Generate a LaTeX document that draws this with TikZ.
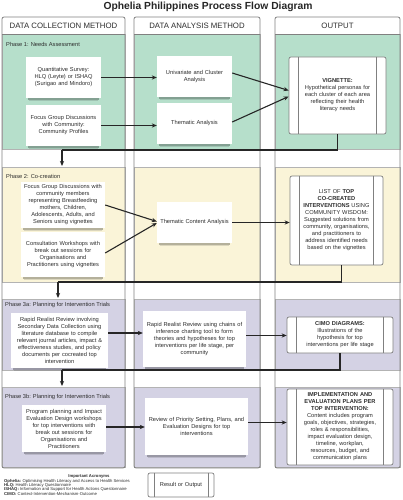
\documentclass[tikz,border=0pt]{standalone}
\usepackage{fontspec}
\setmainfont{Liberation Sans}
\usetikzlibrary{arrows.meta,calc}
\definecolor{pgreen}{RGB}{182,223,203}
\definecolor{pyellow}{RGB}{250,244,216}
\definecolor{ppurple}{RGB}{212,210,228}
\definecolor{lanegray}{RGB}{128,128,128}
\definecolor{txt}{RGB}{45,45,45}
\tikzset{
 lanebox/.style={draw=lanegray, line width=0.8pt, rounded corners=2pt},
 bandbox/.style={draw=lanegray!60, line width=0.4pt},
 procbox/.style={fill=white, text=txt, align=center, font=\fontsize{5.7}{7}\selectfont, inner sep=1pt},
 outbox/.style={draw=lanegray, line width=0.7pt, fill=white, rounded corners=2pt, text=txt, align=center,
   font=\fontsize{5.7}{7}\selectfont, inner sep=1pt},
 arr/.style={-{Stealth[length=5pt,width=4.2pt]}, line width=1.1pt, black!85},
 conn/.style={line width=1.1pt, black!85},
 phlabel/.style={anchor=west, text=txt, font=\fontsize{5.7}{7}\selectfont, inner sep=0pt},
 hdr/.style={text=txt, font=\fontsize{7.8}{9}\selectfont, inner sep=0pt},
 shadowa/.style={fill=black, opacity=0.28},
 shadowb/.style={fill=black, opacity=0.12},
}
\begin{document}
\begin{tikzpicture}[x=1pt,y=-1pt]
\useasboundingbox (0,0) rectangle (402,500);
\fill[white] (0,0) rectangle (402,500);
% title
\node[font=\fontsize{10.3}{12}\selectfont\bfseries, text=black!85, inner sep=0pt] (title) at (208,6.5) {Ophelia Philippines Process Flow Diagram};
% lanes
\foreach \xa/\xb in {2/125,134/260,275/400} {
  \fill[white, rounded corners=2pt] (\xa,17) rectangle (\xb,468);
  \filldraw[bandbox, fill=pgreen] (\xa,34) rectangle (\xb,149);
  \filldraw[bandbox, fill=pyellow] (\xa,167) rectangle (\xb,282);
  \filldraw[bandbox, fill=ppurple] (\xa,299) rectangle (\xb,370);
  \filldraw[bandbox, fill=ppurple] (\xa,387) rectangle (\xb,467.5);
  \draw[lanebox] (\xa,17) rectangle (\xb,468);
  \draw[lanegray, line width=0.8pt] (\xa,34) -- (\xb,34);
}
\node[hdr] (h1) at (63.5,25.5) {DATA COLLECTION METHOD};
\node[hdr] (h2) at (197,25.5) {DATA ANALYSIS METHOD};
\node[hdr] (h3) at (337.5,25.5) {OUTPUT};
% phase labels
\node[phlabel] (ph1) at (6,44) {Phase 1: Needs Assessment};
\node[phlabel] (ph2) at (6,176) {Phase 2: Co-creation};
\node[phlabel] (ph3a) at (5,305.5) {Phase 3a: Planning for Intervention Trials};
\node[phlabel] (ph3b) at (5,397) {Phase 3b: Planning for Intervention Trials};
% phase 1
\node[procbox, text width=73pt, minimum height=41pt] (q1) at (63.5,77.5) {Quantitative Survey:\\HLQ (Leyte) or ISHAQ\\(Surigao and Mindoro)};
\node[procbox, text width=73pt, minimum height=41pt] (f1) at (63.5,125.5) {Focus Group Discussions\\with Community:\\Community Profiles};
\node[procbox, text width=73pt, minimum height=41pt] (u1) at (194.5,76.5) {Univariate and Cluster\\Analysis};
\node[procbox, text width=73pt, minimum height=41pt] (t1) at (194.5,123.5) {Thematic Analysis};
\node[outbox, text width=95pt, minimum height=77pt] (vig) at (337.5,95.5) {\textbf{VIGNETTE:}\\Hypothetical personas for\\each cluster of each area\\reflecting their health\\literacy needs};
% phase 2
\node[procbox, text width=82pt, minimum height=46pt] (f2) at (63,205) {Focus Group Discussions with\\community members\\representing Breastfeeding\\mothers, Children,\\Adolescents, Adults, and\\Seniors using vignettes};
\node[procbox, text width=82pt, minimum height=45pt] (c2) at (63,254.5) {Consultation Workshops with\\break out sessions for\\Organisations and\\Practitioners using vignettes};
\node[procbox, text width=73pt, minimum height=41pt] (t2) at (194.5,222.5) {Thematic Content Analysis};
\node[outbox, text width=91pt, minimum height=89pt] (list) at (336.5,220.5) {LIST OF \textbf{TOP}\\\textbf{CO-CREATED}\\\textbf{INTERVENTIONS} USING\\COMMUNITY WISDOM:\\Suggested solutions from\\community, organisations,\\and practitioners to\\address identified needs\\based on the vignettes};
% phase 3a
\node[procbox, text width=95pt, minimum height=55pt] (r3) at (59.5,340.5) {Rapid Realist Review involving\\Secondary Data Collection using\\literature database to compile\\relevant journal articles, impact \&\\effectiveness studies, and policy\\documents per cocreated top\\intervention};
\node[procbox, text width=101pt, minimum height=56pt] (rr3) at (194.5,339) {Rapid Realist Review using chains of\\inference charting tool to form\\theories and hypotheses for top\\interventions per life stage, per\\community};
\node[outbox, text width=104pt, minimum height=36pt] (cimo) at (340,335) {\textbf{CIMO DIAGRAMS:}\\Illustrations of the\\hypothesis for top\\interventions per life stage};
% phase 3b
\node[procbox, text width=82pt, minimum height=47pt] (p3) at (64,428.5) {Program planning and Impact\\Evaluation Design workshops\\for top interventions with\\break out sessions for\\Organisations and\\Practitioners};
\node[procbox, text width=101pt, minimum height=57pt] (rv3) at (196.5,426.5) {Review of Priority Setting, Plans, and\\Evaluation Designs for top\\interventions};
\node[outbox, text width=104pt, minimum height=76pt] (impl) at (340,427) {\textbf{IMPLEMENTATION AND}\\\textbf{EVALUATION PLANS PER}\\\textbf{TOP INTERVENTION:}\\Content includes program\\goals, objectives, strategies,\\roles \& responsibilities,\\impact evaluation design,\\timeline, workplan,\\resources, budget, and\\communication plans};
% soft shadows under process boxes
\foreach \n in {q1,f1,u1,t1,f2,c2,t2,r3,rr3,p3,rv3} {
  \fill[shadowa] ([xshift=2pt]\n.south west) rectangle ([xshift=-2pt,yshift=-1.5pt]\n.south east);
  \fill[shadowb] ([xshift=3pt,yshift=-1.5pt]\n.south west) rectangle ([xshift=-3pt,yshift=-3pt]\n.south east);
}
% legend
\node[font=\fontsize{4.2}{5}\selectfont\bfseries, text=txt, inner sep=0pt] (acrt) at (89,476) {Important Acronyms};
\node[anchor=north west, align=left, font=\fontsize{4.2}{4.3}\selectfont, text=txt, inner sep=0pt] (acr) at (4,479) {\textbf{Ophelia:} Optimising Health Literacy and Access to Health Services\\\textbf{HLQ:} Health Literacy Questionnaire\\\textbf{ISHAQ:} Information and Support for Health Actions Questionnaire\\\textbf{CIMO:} Context-Intervention-Mechanism-Outcome};
\node[outbox, text width=64pt, minimum height=24pt] (leg) at (181,485) {Result or Output};
% inner lines of output boxes
\foreach \n/\d in {vig/10pt,list/10pt,cimo/10pt,impl/10pt,leg/6.5pt} {
  \draw[lanegray, line width=0.6pt] ([xshift=\d]\n.north west) -- ([xshift=\d]\n.south west);
  \draw[lanegray, line width=0.6pt] ([xshift=-\d]\n.north east) -- ([xshift=-\d]\n.south east);
}
% arrows phase 1
\draw[arr] (q1.east) -- (q1.east -| u1.west);
\draw[arr] (f1.east) -- (f1.east -| t1.west);
\draw[arr] ([yshift=3.5pt]u1.east) -- ([yshift=5pt]vig.west);
\draw[arr] ([yshift=1.5pt]t1.east) -- ([yshift=-1pt]vig.west);
% phase 2
\draw[arr] (f2.east) -- ([yshift=1pt]t2.west);
\draw[arr] ([yshift=1.5pt]c2.east) -- ([yshift=-0.5pt]t2.west);
\draw[arr] (t2.east) -- (t2.east -| list.west);
% phase 3a
\draw[arr] ([yshift=7.5pt]r3.east) -- ([yshift=7.5pt]r3.east -| rr3.west);
\draw[arr] ([yshift=3.5pt]rr3.east) -- ([yshift=3.5pt]rr3.east -| cimo.west);
% phase 3b
\draw[arr] ([yshift=1.5pt]p3.east) -- ([yshift=1.5pt]p3.east -| rv3.west);
\draw[arr] ([yshift=4pt]rv3.east) -- ([yshift=4pt]rv3.east -| impl.west);
% phase transitions
\coordinate (k1) at (62,150);
\coordinate (e1) at (62,166);
\draw[conn] (vig.south) |- (k1);
\draw[arr] (k1) -- (e1);
\coordinate (k2) at (58,282);
\coordinate (e2) at (58,298);
\draw[conn] ([xshift=5pt]list.south) |- (k2);
\draw[arr] (k2) -- (e2);
\coordinate (k3) at (62,370);
\coordinate (e3) at (62,386);
\draw[conn] (cimo.south) |- (k3);
\draw[arr] (k3) -- (e3);
\end{tikzpicture}
\end{document}
